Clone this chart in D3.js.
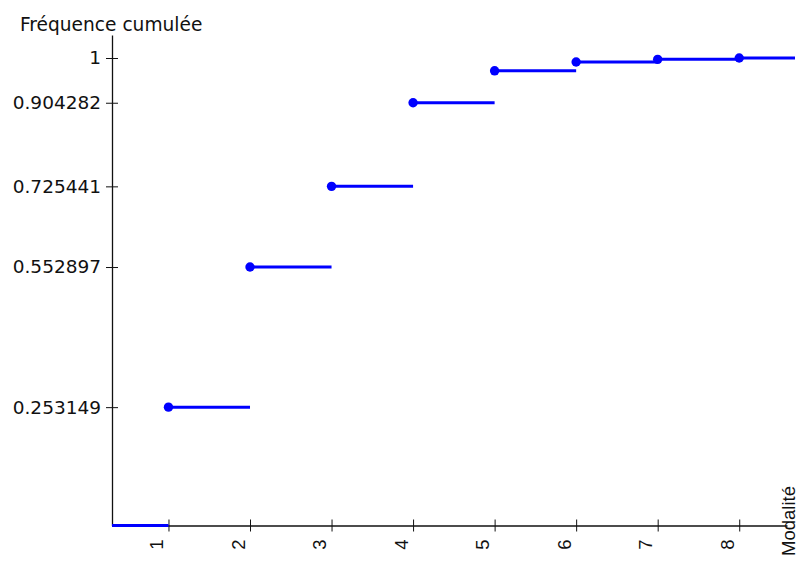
<!DOCTYPE html>
<html>
<head>
<meta charset="utf-8">
<script src="https://cdn.jsdelivr.net/npm/d3@7"></script>
<style>
  html, body { margin: 0; padding: 0; background: #fff; }
  svg { display: block; }
</style>
</head>
<body>
<svg id="chart" width="801" height="563"></svg>
<script>
// ---- data ----
const categories = [1, 2, 3, 4, 5, 6, 7, 8];
const cumulative = [0.253149, 0.552897, 0.725441, 0.904282, 0.9726, 0.9914, 0.9971, 1];
const yTickValues = [0.253149, 0.552897, 0.725441, 0.904282, 1];
const yTitle = "Fréquence cumulée";
const xTitle = "Modalité";

// ---- layout ----
const svg = d3.select("#chart");
const x0 = 112, y0 = 525.5;
const x = d3.scaleLinear().domain([0.3074, 8.586]).range([x0, 787]);
const y = d3.scaleLinear().domain([0, 1.0492]).range([y0, 35]);
const xLineEnd = x.invert(795);

const axisColor = "#111";
const blue = "#0000ff";

// y axis
const yAxis = d3.axisLeft(y)
  .tickValues(yTickValues)
  .tickFormat(d => d === 1 ? "1" : String(d))
  .tickSizeOuter(0)
  .tickSizeInner(6)
  .tickPadding(5);
const gy = svg.append("g").attr("transform", `translate(${x0},0)`).call(yAxis);
gy.select(".domain").attr("stroke", axisColor).attr("stroke-width", 1.3);
gy.selectAll(".tick line").attr("x1", -6).attr("x2", 6).attr("stroke", axisColor);
gy.selectAll(".tick text")
  .attr("font-family", "DejaVu Sans, Verdana, sans-serif")
  .attr("font-size", 18.5)
  .attr("fill", "#111")
  .attr("x", -11);

// x axis
const xAxis = d3.axisBottom(x)
  .tickValues(categories)
  .tickFormat(d3.format("d"))
  .tickSizeOuter(0)
  .tickSizeInner(6);
const gx = svg.append("g").attr("transform", `translate(0,${y0})`).call(xAxis);
gx.select(".domain").attr("stroke", axisColor).attr("stroke-width", 1.3);
gx.selectAll(".tick line").attr("y1", -6).attr("y2", 6).attr("stroke", axisColor);
gx.selectAll(".tick text")
  .attr("font-family", "Liberation Sans, Arial, sans-serif")
  .attr("font-size", 18.5)
  .attr("fill", "#111")
  .attr("text-anchor", "end")
  .attr("dy", null)
  .attr("y", null)
  .attr("transform", "translate(-6,14) rotate(-90)");

// titles
svg.append("text")
  .attr("x", 20).attr("y", 31)
  .attr("font-family", "DejaVu Sans, Verdana, sans-serif")
  .attr("font-size", 18.6)
  .attr("fill", "#111")
  .text(yTitle);

svg.append("text")
  .attr("transform", "translate(795,486) rotate(-90)")
  .attr("text-anchor", "end")
  .attr("font-family", "Liberation Sans, Arial, sans-serif")
  .attr("font-size", 18.5)
  .attr("fill", "#111")
  .text(xTitle);

// step segments
const levels = [0, ...cumulative];
const starts = [x.domain()[0], ...categories];
const ends = [...categories, xLineEnd];
const segs = levels.map((v, i) => ({ x1: starts[i], x2: ends[i], v }));

svg.append("g").selectAll("line").data(segs).join("line")
  .attr("x1", d => x(d.x1)).attr("x2", d => x(d.x2))
  .attr("y1", d => y(d.v)).attr("y2", d => y(d.v))
  .attr("stroke", blue).attr("stroke-width", 3);

svg.append("g").selectAll("circle").data(categories).join("circle")
  .attr("cx", d => x(d))
  .attr("cy", (d, i) => y(cumulative[i]))
  .attr("r", 4.7)
  .attr("fill", blue);
</script>
</body>
</html>
